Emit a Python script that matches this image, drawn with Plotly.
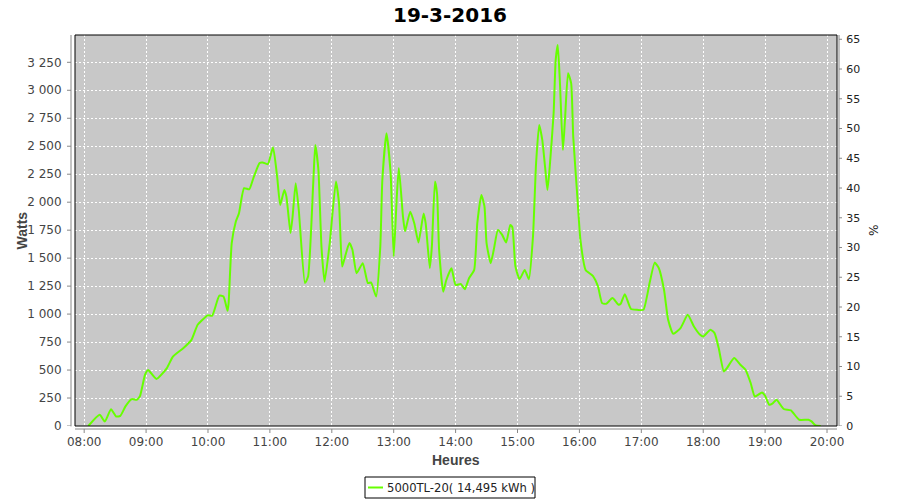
import plotly.graph_objects as go

DATE = "2016-03-19"
times = ["08:04","08:15","08:20","08:26","08:31","08:35","08:40","08:46","08:51","08:54",
         "08:59","09:02","09:10","09:20","09:26","09:36","09:44","09:50","10:00","10:04",
         "10:11","10:15","10:19","10:20","10:23","10:27","10:30","10:35","10:40","10:44",
         "10:50","10:53","10:58","11:03","11:07","11:10","11:14","11:16","11:20","11:22",
         "11:25","11:28","11:34","11:37","11:42","11:44","11:47","11:50","11:53","11:58",
         "12:04","12:07","12:10","12:12","12:17","12:20","12:24","12:30","12:35","12:38",
         "12:43","12:47","12:49","12:53","12:57","13:00","13:03","13:05","13:09","13:11",
         "13:16","13:20","13:24","13:29","13:31","13:35","13:37","13:40","13:42","13:44",
         "13:48","13:51","13:56","14:00","14:05","14:09","14:13","14:18","14:21","14:25",
         "14:28","14:30","14:34","14:37","14:41","14:45","14:49","14:53","14:55","14:58",
         "15:02","15:07","15:11","15:15","15:18","15:21","15:24","15:27","15:29","15:31",
         "15:35","15:37","15:39","15:41","15:44","15:46","15:49","15:52","15:54","15:58",
         "16:01","16:06","16:13","16:18","16:22","16:26","16:32","16:38","16:40","16:44",
         "16:50","16:56","17:02","17:08","17:13","17:17","17:22","17:26","17:31","17:38",
         "17:45","17:51","17:57","18:00","18:07","18:11","18:15","18:20","18:23","18:30",
         "18:36","18:41","18:46","18:50","18:57","19:00","19:04","19:07","19:11","19:18",
         "19:25","19:33","19:42","19:45","19:49","19:54"]
watts = [0,100,40,150,85,90,175,240,235,265,
         458,500,420,515,620,695,770,905,990,985,
         1165,1157,1030,1100,1635,1827,1900,2125,2115,2215,
         2350,2355,2340,2490,2230,1975,2110,2050,1725,1870,
         2170,1930,1277,1335,2170,2510,2290,1600,1290,1635,
         2185,1990,1425,1485,1635,1575,1365,1455,1277,1283,
         1157,1603,2200,2615,2260,1515,2050,2305,1870,1740,
         1915,1810,1640,1900,1810,1410,1605,2185,2080,1575,
         1200,1305,1410,1260,1270,1223,1320,1395,1810,2065,
         1960,1635,1455,1575,1752,1710,1640,1797,1777,1425,
         1312,1395,1312,1693,2348,2690,2556,2288,2110,2288,
         2795,3270,3405,3092,2467,2735,3152,3062,2586,2050,
         1663,1395,1342,1247,1098,1092,1143,1083,1092,1178,
         1045,1038,1038,1277,1460,1410,1217,949,824,875,
         994,889,815,800,860,830,696,488,518,607,
         547,503,384,264,300,270,190,199,235,152,
         139,56,56,41,5,0]

hour_ticks = ["08:00","09:00","10:00","11:00","12:00","13:00","14:00",
              "15:00","16:00","17:00","18:00","19:00","20:00"]
watt_ticks = [0,250,500,750,1000,1250,1500,1750,2000,2250,2500,2750,3000,3250]
watt_labels = ["0","250","500","750","1 000","1 250","1 500","1 750","2 000",
               "2 250","2 500","2 750","3 000","3 250"]
pct_ticks = [0,5,10,15,20,25,30,35,40,45,50,55,60,65]

series_name = "5000TL-20( 14,495 kWh )"
title_text = "19-3-2016"
x_title = "Heures"
y_title = "Watts"
y2_title = "%"

x = [f"{DATE} {t}" for t in times]
xt = [f"{DATE} {t}" for t in hour_ticks]
x_range = [f"{DATE} 07:51:06", f"{DATE} 20:09:40"]
y_max = 3494
pct_max = 65.72

FONT = "DejaVu Sans"
GRID = "white"
AX = "#888888"
LINE_COLOR = "#66ff00"
PW, PH = 762, 391  # plot area size in px

fig = go.Figure()
fig.add_trace(go.Scatter(x=x, y=watts, mode="lines", name=series_name,
                         line=dict(color=LINE_COLOR, width=2, shape="spline", smoothing=0.5),
                         hoverinfo="skip", showlegend=False))
fig.add_trace(go.Scatter(x=[x[0]], y=[0], yaxis="y2", mode="lines", showlegend=False,
                         opacity=0, hoverinfo="skip"))

fig.update_layout(
    width=900, height=500,
    margin=dict(l=75, r=63, t=35, b=74),
    paper_bgcolor="white", plot_bgcolor="#c8c8c8",
    font=dict(family=FONT, color="#444444", size=12),
    title=dict(text=f"<b>{title_text}</b>", x=0.5, xanchor="center", y=0.971, yanchor="middle",
               font=dict(family=FONT, size=20, color="black")),
    xaxis=dict(type="date", range=x_range, tickvals=xt, tickformat="%H:%M", automargin=False,
               showgrid=True, gridcolor=GRID, griddash="2px,2px", gridwidth=1,
               zeroline=False, showline=False, ticks="outside", ticklen=5,
               tickcolor="rgba(0,0,0,0)", tickfont=dict(size=12, color="#444444")),
    yaxis=dict(range=[0, y_max], tickvals=watt_ticks, ticktext=watt_labels, automargin=False,
               showgrid=True, gridcolor=GRID, griddash="2px,2px", gridwidth=1,
               zeroline=False, showline=False, ticks="outside", ticklen=10,
               tickcolor="rgba(0,0,0,0)", tickfont=dict(size=12, color="#444444")),
    yaxis2=dict(range=[0, pct_max], tickvals=pct_ticks, overlaying="y", side="right",
                automargin=False,
                showgrid=False, zeroline=False, showline=False, ticks="outside",
                ticklen=6, tickcolor="rgba(0,0,0,0)",
                tickfont=dict(size=11, color="#222222")),
    showlegend=False,
)

shapes = []
# plot border
shapes.append(dict(type="rect", xref="paper", yref="paper", x0=0, x1=1, y0=0, y1=1,
                   line=dict(color="black", width=1), layer="above"))
# offset left axis line and ticks
lx = -4 / PW
shapes.append(dict(type="line", xref="paper", yref="paper", x0=lx, x1=lx, y0=-0.001, y1=1,
                   line=dict(color=AX, width=1)))
for v in watt_ticks:
    shapes.append(dict(type="line", xref="paper", yref="y", x0=lx, x1=lx - 4 / PW, y0=v, y1=v,
                       line=dict(color=AX, width=1)))
# offset bottom axis line and ticks
by = -3 / PH
shapes.append(dict(type="line", xref="paper", yref="paper", x0=0, x1=1, y0=by, y1=by,
                   line=dict(color=AX, width=1)))
for t in xt:
    shapes.append(dict(type="line", xref="x", yref="paper", x0=t, x1=t, y0=by, y1=by - 4 / PH,
                       line=dict(color=AX, width=1)))
# right axis line and ticks
rx = 1 + 2 / PW
shapes.append(dict(type="line", xref="paper", yref="paper", x0=rx, x1=rx, y0=0, y1=1,
                   line=dict(color=AX, width=1)))
for v in pct_ticks:
    shapes.append(dict(type="line", xref="paper", yref="y2", x0=rx, x1=rx + 3 / PW, y0=v, y1=v,
                       line=dict(color=AX, width=1)))

def px_x(p):
    return (p - 75) / PW

def px_y(p):
    return (426 - p) / PH

# legend box (drawn manually to match the compact original)
shapes.append(dict(type="rect", xref="paper", yref="paper",
                   x0=px_x(365), x1=px_x(535), y0=px_y(477), y1=px_y(498),
                   line=dict(color="black", width=1), fillcolor="white"))
shapes.append(dict(type="line", xref="paper", yref="paper",
                   x0=px_x(368), x1=px_x(383), y0=px_y(487.5), y1=px_y(487.5),
                   line=dict(color=LINE_COLOR, width=2)))
fig.update_layout(shapes=shapes)

fig.add_annotation(text=series_name, xref="paper", yref="paper", x=px_x(385), y=px_y(487.5),
                   xanchor="left", yanchor="middle", showarrow=False,
                   font=dict(size=11.6, color="#222222"))
axis_title_font = dict(family="Liberation Sans", size=14, color="#444444")
fig.add_annotation(text=f"<b>{x_title}</b>", xref="paper", yref="paper", x=0.5, y=px_y(460),
                   xanchor="center", yanchor="middle", showarrow=False, font=axis_title_font)
fig.add_annotation(text=f"<b>{y_title}</b>", xref="paper", yref="paper", x=px_x(21), y=0.5,
                   xanchor="center", yanchor="middle", showarrow=False, textangle=-90,
                   font=axis_title_font)
fig.add_annotation(text=y2_title, xref="paper", yref="paper", x=px_x(873), y=0.5,
                   xanchor="center", yanchor="middle",
                   showarrow=False, textangle=90, font=dict(size=12, color="#222222"))

fig.write_html("out.html", config={"displayModeBar": False},
               post_script="document.body.style.margin='0';document.body.style.overflow='hidden';")
